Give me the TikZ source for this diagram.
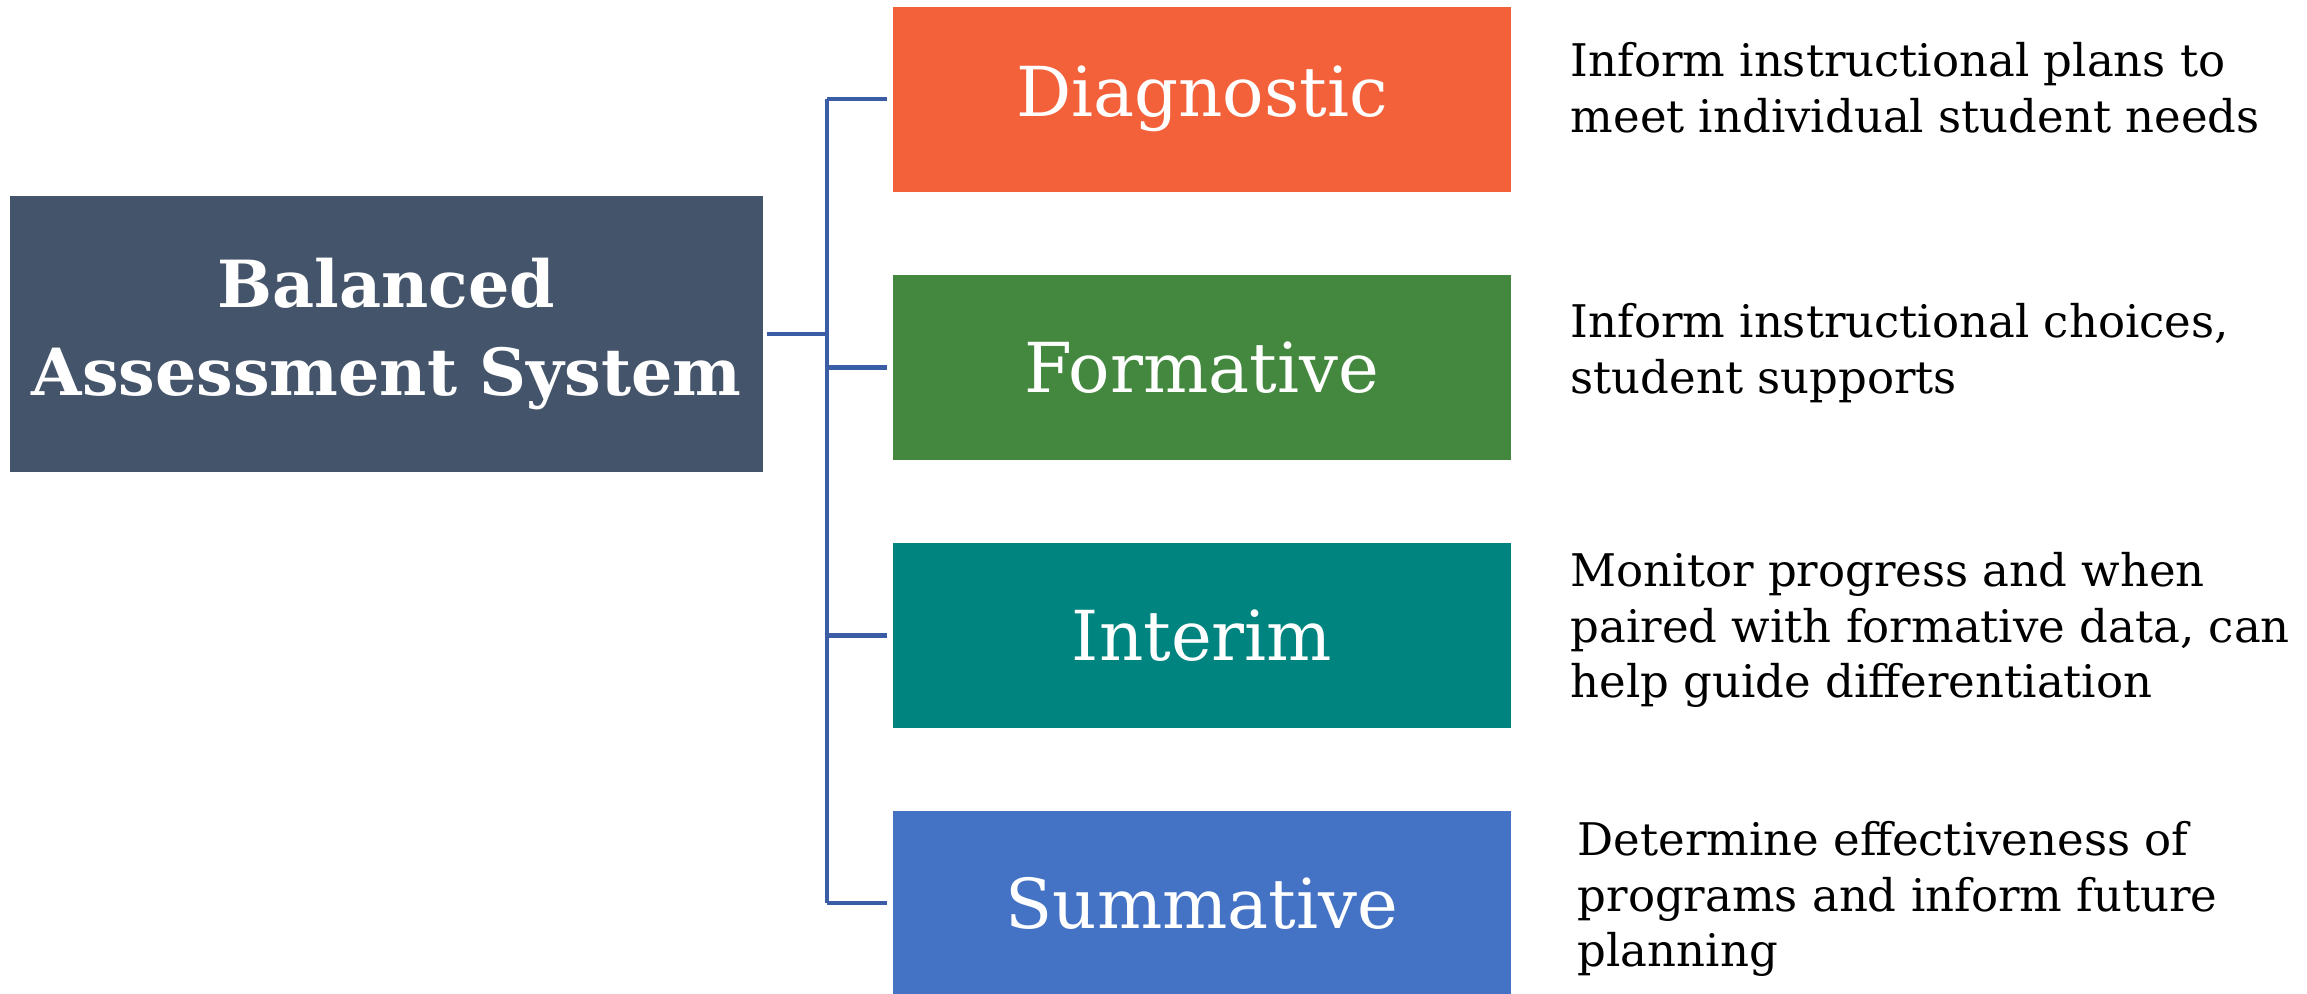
\documentclass[tikz,border=0pt]{standalone}
\usepackage{fontspec}
\setmainfont{DejaVu Serif}
\usepackage{xcolor}
\usepackage{tikz}
\definecolor{slate}{HTML}{44546A}
\definecolor{diagcol}{HTML}{F2613A}
\definecolor{formcol}{HTML}{43883E}
\definecolor{intercol}{HTML}{00847F}
\definecolor{summcol}{HTML}{4472C4}
\definecolor{linecol}{HTML}{3A5DA6}
\begin{document}
\begin{tikzpicture}[
  Box/.style={fill=#1, text=white, minimum width=6.18cm, minimum height=1.85cm, inner sep=0pt, font=\fontsize{19.6}{23}\selectfont},
  Desc/.style={anchor=west, align=left, inner sep=0pt, font=\fontsize{12.8}{15.9}\selectfont},
  Link/.style={linecol, line width=1.2pt}]
\useasboundingbox (0,0) rectangle (23.07,-9.93);
\node[fill=slate, text=white, minimum width=7.53cm, minimum height=2.76cm, align=center, font=\bfseries\fontsize{18.5}{25}\selectfont] (System) at (3.865,-3.34) {Balanced\\Assessment System};
\node[Box=diagcol] (Diagnostic) at (12.02,-0.99) {Diagnostic};
\node[Box=formcol] (Formative) at (12.02,-3.675) {Formative};
\node[Box=intercol] (Interim) at (12.02,-6.355) {Interim};
\node[Box=summcol] (Summative) at (12.02,-9.03) {Summative};
\node[Desc] (DiagText) at (15.70,-0.88) {Inform instructional plans to\\meet individual student needs};
\node[Desc] (FormText) at (15.70,-3.53) {Inform instructional choices,\\student supports};
\node[Desc] (InterText) at (15.70,-6.30) {Monitor progress and when\\paired with formative data, can\\help guide differentiation};
\node[Desc] (SummText) at (15.77,-8.99) {Determine effectiveness of\\programs and inform future\\planning};
\coordinate (Trunk) at (8.27,-3.34);
\draw[Link, shorten <=0.03cm] (System.east) -- (Trunk);
\draw[Link] (Trunk |- Diagnostic.west) -- (Trunk |- Summative.west);
\foreach \b in {Diagnostic,Formative,Interim,Summative}\draw[Link, shorten >=0.05cm] (Trunk |- \b.west) -- (\b.west);
\end{tikzpicture}
\end{document}
